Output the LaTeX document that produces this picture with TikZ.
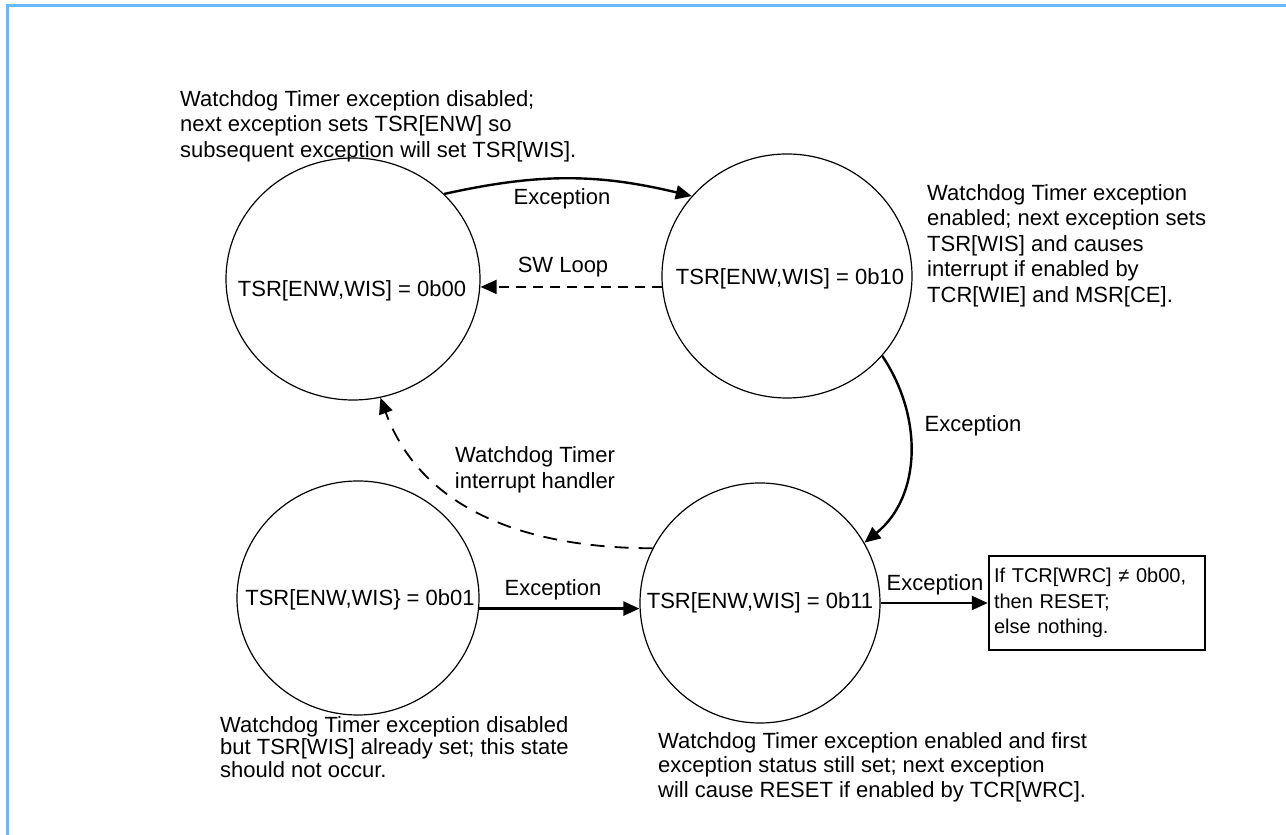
\documentclass[tikz,border=0pt]{standalone}
\usepackage{fontspec}
\setmainfont{Liberation Sans}
\usetikzlibrary{arrows.meta,shapes.geometric}
\definecolor{framebl}{RGB}{102,187,255}
\begin{document}
\begin{tikzpicture}[x=1pt,y=1pt,
  state/.style={ellipse,draw,line width=1.2pt,inner sep=0pt},
  lbl/.style={font=\fontsize{22}{25.5}\selectfont,inner sep=0pt},
  desc/.style={font=\fontsize{22}{25.5}\selectfont,align=left,inner sep=0pt,anchor=north west},
  solidarrow/.style={line width=2.4pt,-{Triangle[length=16pt,width=14pt]}},
  dasharrow/.style={line width=2pt,dash pattern=on 10pt off 7pt,-{Triangle[length=16pt,width=14pt]}},
]
\useasboundingbox (0,0) rectangle (1286,835);
\draw[framebl,line width=3pt] (7,0) -- (7,829) -- (1286,829);

% states
\node[state,minimum width=254pt,minimum height=242pt] (c1) at (353,556) {};
\node[state,minimum width=250pt,minimum height=244pt] (c2) at (787,559) {};
\node[state,minimum width=242pt,minimum height=234pt] (c3) at (358,237) {};
\node[state,minimum width=240pt,minimum height=240pt] (c4) at (760,232) {};

\node[lbl,anchor=base] (t1) at (352,538) {TSR[ENW,WIS] = 0b00};
\node[lbl,anchor=base] (t2) at (790,550) {TSR[ENW,WIS] = 0b10};
\node[lbl,anchor=base] (t3) at (360,229) {TSR[ENW,WIS\} = 0b01};
\node[lbl,anchor=base] (t4) at (760,226) {TSR[ENW,WIS] = 0b11};

% result box
\node[draw,line width=2.5pt,minimum width=216pt,minimum height=94pt,text width=206pt,
      align=left,inner sep=0pt,font=\fontsize{20}{25.5}\selectfont] (box) at (1097,232)
      {If TCR[WRC] ≠ 0b00,\\then RESET;\\else nothing.};

% connectors
\draw[solidarrow] (c1.43) to[bend left=13] (c2.140);
\draw[dasharrow] (c2.185) -- (c2.185 -| c1.east);
\draw[solidarrow] (c2.-40) to[out=-56,in=39] (c4.30);
\draw[dasharrow,line width=1.8pt,dash pattern=on 14pt off 10pt] (c4.153) to[out=180,in=-70] (c1.-77);
\draw[solidarrow] (c3.-5) -- (c3.-5 -| c4.west);
\draw[solidarrow] (c4.east) -- (box.west);

% connector labels
\node[lbl] (l1) at (562,636) {Exception};
\node[lbl] (l2) at (563,568) {SW Loop};
\node[lbl] (l3) at (973,409) {Exception};
\node[lbl,align=center] (l4) at (535,365) {Watchdog Timer\\interrupt handler};
\node[lbl] (l5) at (553,245) {Exception};
\node[lbl] (l6) at (935,250) {Exception};

% descriptions
\node[desc] (d1) at (180,745) {Watchdog Timer exception disabled;\\next exception sets TSR[ENW] so\\subsequent exception will set TSR[WIS].};
\node[desc] (d2) at (927,651) {Watchdog Timer exception\\enabled; next exception sets\\TSR[WIS] and causes\\interrupt if enabled by\\TCR[WIE] and MSR[CE].};
\node[desc,font=\fontsize{22}{22.5}\selectfont] (d3) at (220,119) {Watchdog Timer exception disabled\\but TSR[WIS] already set; this state\\should not occur.};
\node[desc,font=\fontsize{22}{24.5}\selectfont] (d4) at (658,103) {Watchdog Timer exception enabled and first\\exception status still set; next exception\\will cause RESET if enabled by TCR[WRC].};
\end{tikzpicture}
\end{document}
